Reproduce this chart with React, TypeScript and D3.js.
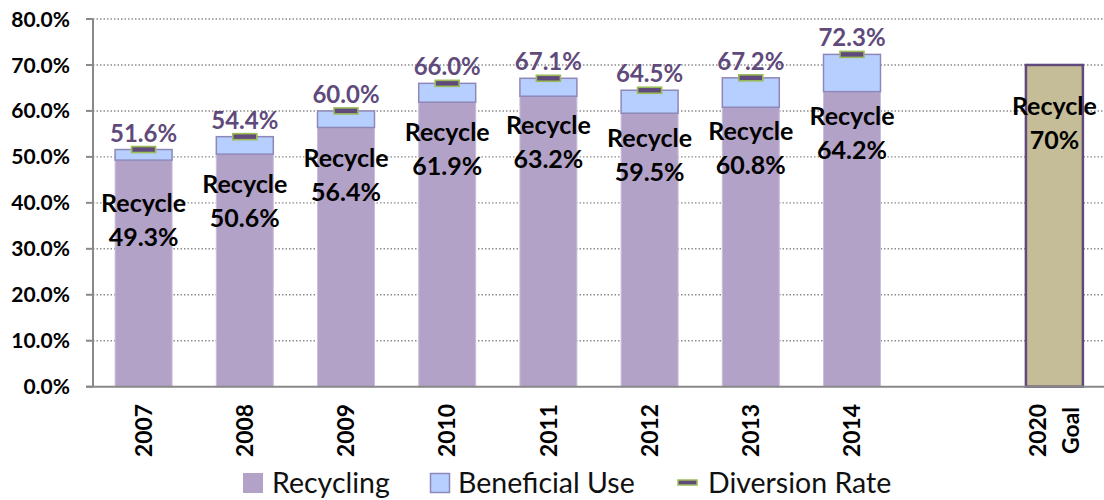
import React from "react";
import * as d3 from "d3";

// ---- data ----
const categories = ["2007", "2008", "2009", "2010", "2011", "2012", "2013", "2014", "", "2020 Goal"];
const years = ["2007", "2008", "2009", "2010", "2011", "2012", "2013", "2014"];
const recycling = [49.3, 50.6, 56.4, 61.9, 63.2, 59.5, 60.8, 64.2];
const diversionRate = [51.6, 54.4, 60.0, 66.0, 67.1, 64.5, 67.2, 72.3];
const goalValue = 70;
const goalLabel = "2020 Goal";
// where the "Recycle" label baseline sits, in chart percent units
const recycleLabelAt = [38.0, 42.1, 47.8, 53.4, 55.0, 52.1, 53.7, 57.0];
const goalLabelAt = 59.1;
const yTicks = [0, 10, 20, 30, 40, 50, 60, 70, 80];
const legendItems = ["Recycling", "Beneficial Use", "Diversion Rate"];

const W = 1104;
const H = 500;
const FONT = "Lato, 'Open Sans', sans-serif";

const C_REC = "#B3A2C7";
const C_REC_EDGE = "#C9BEDB";
const C_BEN = "#B7CFFF";
const C_BEN_EDGE = "#8E88B8";
const C_DIV = "#604A7B";
const C_DIV_EDGE = "#9BBB59";
const C_GOAL = "#C4BD97";
const C_AXIS = "#898989";

export default function App() {
  const y = d3.scaleLinear().domain([0, 80]).range([386.7, 19]);
  const x = d3
    .scaleBand<string>()
    .domain(categories.map((c, i) => c || `blank${i}`))
    .range([93, 1105])
    .paddingInner(0.437)
    .paddingOuter(0.2185);
  const key = (c: string, i: number) => c || `blank${i}`;
  const bw = x.bandwidth();
  const cx = (c: string) => (x(c) as number) + bw / 2;

  const fmt = (v: number) => d3.format(".1f")(v) + "%";

  return (
    <svg
      width={W}
      height={H}
      style={{ position: "absolute", left: 0, top: 0, background: "#fff" }}
      fontFamily={FONT}
    >
      {/* gridlines */}
      {yTicks.filter((t) => t > 0).map((t) => (
        <line
          key={"g" + t}
          x1={93}
          x2={W}
          y1={y(t)}
          y2={y(t)}
          stroke="#8c8c8c"
          strokeWidth={1.4}
          strokeDasharray="1.5 2"
        />
      ))}
      {/* ticks */}
      {yTicks.map((t) => (
        <line key={"t" + t} x1={86} x2={93} y1={y(t)} y2={y(t)} stroke={C_AXIS} strokeWidth={2} />
      ))}
      {/* y tick labels */}
      {yTicks.map((t) => (
        <text
          key={"l" + t}
          x={70}
          y={y(t)}
          dy="0.36em"
          textAnchor="end"
          fontWeight="bold"
          fontSize={21}
          fill="#000"
        >
          {d3.format(".1f")(t)}%
        </text>
      ))}

      {/* bars */}
      {years.map((yr, i) => {
        const x0 = x(yr) as number;
        return (
          <g key={"b" + yr}>
            <rect
              x={x0}
              y={y(recycling[i])}
              width={bw}
              height={y(0) - y(recycling[i])}
              fill={C_REC}
              stroke={C_REC_EDGE}
              strokeWidth={1}
            />
            <rect
              x={x0}
              y={y(diversionRate[i])}
              width={bw}
              height={y(recycling[i]) - y(diversionRate[i])}
              fill={C_BEN}
              stroke={C_BEN_EDGE}
              strokeWidth={1.5}
            />
          </g>
        );
      })}
      {/* goal bar */}
      <rect
        x={x(goalLabel) as number}
        y={y(goalValue)}
        width={bw}
        height={y(0) - y(goalValue)}
        fill={C_GOAL}
        stroke={C_DIV}
        strokeWidth={2.5}
      />

      {/* axes lines */}
      <line x1={93} x2={93} y1={y(80)} y2={y(0)} stroke={C_AXIS} strokeWidth={2} />
      <line x1={86} x2={W} y1={y(0)} y2={y(0)} stroke={C_AXIS} strokeWidth={2} />

      {/* diversion markers */}
      {years.map((yr, i) => (
        <rect
          key={"m" + yr}
          x={cx(yr) - 12}
          y={y(diversionRate[i]) - 3}
          width={24}
          height={6}
          fill={C_DIV}
          stroke={C_DIV_EDGE}
          strokeWidth={1.6}
        />
      ))}

      {/* diversion labels */}
      {years.map((yr, i) => (
        <text
          key={"d" + yr}
          x={cx(yr)}
          y={y(diversionRate[i]) - 8}
          textAnchor="middle"
          fontWeight="bold"
          fontSize={24}
          fill={C_DIV}
        >
          {fmt(diversionRate[i])}
        </text>
      ))}

      {/* recycle labels */}
      {years.map((yr, i) => (
        <text
          key={"r" + yr}
          x={cx(yr)}
          y={y(recycleLabelAt[i])}
          textAnchor="middle"
          fontWeight="bold"
          fontSize={25}
          fill="#000"
        >
          <tspan x={cx(yr)}>Recycle</tspan>
          <tspan x={cx(yr)} dy={34}>
            {fmt(recycling[i])}
          </tspan>
        </text>
      ))}
      <text
        x={cx(goalLabel)}
        y={y(goalLabelAt)}
        textAnchor="middle"
        fontWeight="bold"
        fontSize={25}
        fill="#000"
      >
        <tspan x={cx(goalLabel)}>Recycle</tspan>
        <tspan x={cx(goalLabel)} dy={34}>
          {goalValue}%
        </tspan>
      </text>

      {/* x labels */}
      {categories.map((c, i) => {
        if (!c) return null;
        const k = key(c, i);
        const lines = c.split(" ");
        const n = lines.length;
        return (
          <g key={"x" + k}>
            {lines.map((ln, j) => (
              <text
                key={ln}
                transform={`translate(${cx(k) + (j - (n - 1) / 2) * 33},430.5) rotate(-90)`}
                textAnchor="middle"
                dy="0.36em"
                fontWeight="bold"
                fontSize={22.8}
                fill="#000"
              >
                {ln}
              </text>
            ))}
          </g>
        );
      })}

      {/* legend */}
      <rect x={243} y={473} width={20} height={20} fill={C_REC} />
      <text x={272} y={483} dy="0.36em" fontSize={28.5} fill="#111">
        {legendItems[0]}
      </text>
      <rect x={430.5} y={473.5} width={19} height={19} fill={C_BEN} stroke={C_BEN_EDGE} strokeWidth={1.5} />
      <text x={458} y={483} dy="0.36em" fontSize={28.5} fill="#111">
        {legendItems[1]}
      </text>
      <rect x={678} y={480} width={19} height={5} fill={C_DIV} stroke={C_DIV_EDGE} strokeWidth={1.5} />
      <text x={708} y={483} dy="0.36em" fontSize={28.5} fill="#111">
        {legendItems[2]}
      </text>
    </svg>
  );
}
